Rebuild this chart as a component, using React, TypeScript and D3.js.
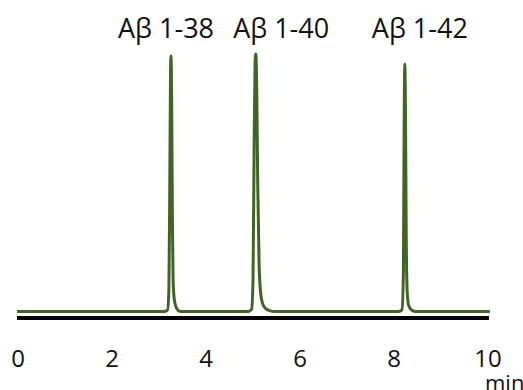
import React from "react";
import * as d3 from "d3";

// Chromatogram trace: retention time (min) vs detector signal (relative units)
const traceTimes = [
  -0.02, 3.1, 3.18, 3.21, 3.23, 3.245, 3.255, 3.27, 3.285, 3.3, 3.33, 3.38, 3.45,
  4.9, 4.97, 5.0, 5.025, 5.045, 5.06, 5.08, 5.1, 5.13, 5.17, 5.23, 5.32, 5.45,
  8.1, 8.17, 8.2, 8.215, 8.23, 8.245, 8.26, 8.28, 8.31, 8.36, 8.45, 10.04,
];
const traceSignal = [
  0, 0, 0.5, 8, 50, 92, 98.5, 80, 35, 12, 4, 1, 0,
  0, 0.8, 12, 65, 96, 99.2, 85, 50, 18, 6, 2, 0.5, 0,
  0, 0.6, 15, 70, 95.4, 75, 30, 8, 2.5, 0.8, 0, 0,
];

const peakNames = ["Aβ 1-38", "Aβ 1-40", "Aβ 1-42"];
const peakLabelTimes = [3.15, 5.6, 8.55];

const xTicks = [0, 2, 4, 6, 8, 10];
const xUnit = "min";

const width = 523;
const height = 390;
const font = "'Open Sans', sans-serif";
const green = "#3f6424";

export default function App() {
  const x = d3.scaleLinear().domain([0, 10]).range([18, 488]);
  const y = d3.scaleLinear().domain([0, 100]).range([311.5, 52]);

  const points: [number, number][] = traceTimes.map((t, i) => [t, traceSignal[i]]);
  const line = d3
    .line<[number, number]>()
    .x((d) => x(d[0]))
    .y((d) => y(d[1]))
    .curve(d3.curveMonotoneX);

  return (
    <svg
      width={width}
      height={height}
      style={{ position: "absolute", left: 0, top: 0, background: "#fff" }}
    >
      {/* time axis */}
      <line x1={x(-0.02)} x2={x(10.02)} y1={318} y2={318} stroke="#000" strokeWidth={4} />
      {xTicks.map((t) => (
        <text
          key={t}
          x={x(t)}
          y={367}
          textAnchor="middle"
          fontFamily={font}
          fontSize={24}
          fill="#111"
        >
          {t}
        </text>
      ))}
      <text x={485} y={391} fontFamily={font} fontSize={22} fill="#111">
        {xUnit}
      </text>

      {/* signal trace */}
      <path d={line(points) ?? ""} fill="none" stroke={green} strokeWidth={3} strokeLinejoin="round" />

      {/* peak names */}
      {peakNames.map((name, i) => (
        <text
          key={name}
          x={x(peakLabelTimes[i])}
          y={38}
          textAnchor="middle"
          fontFamily={font}
          fontSize={27}
          fill="#111"
        >
          {name}
        </text>
      ))}
    </svg>
  );
}
